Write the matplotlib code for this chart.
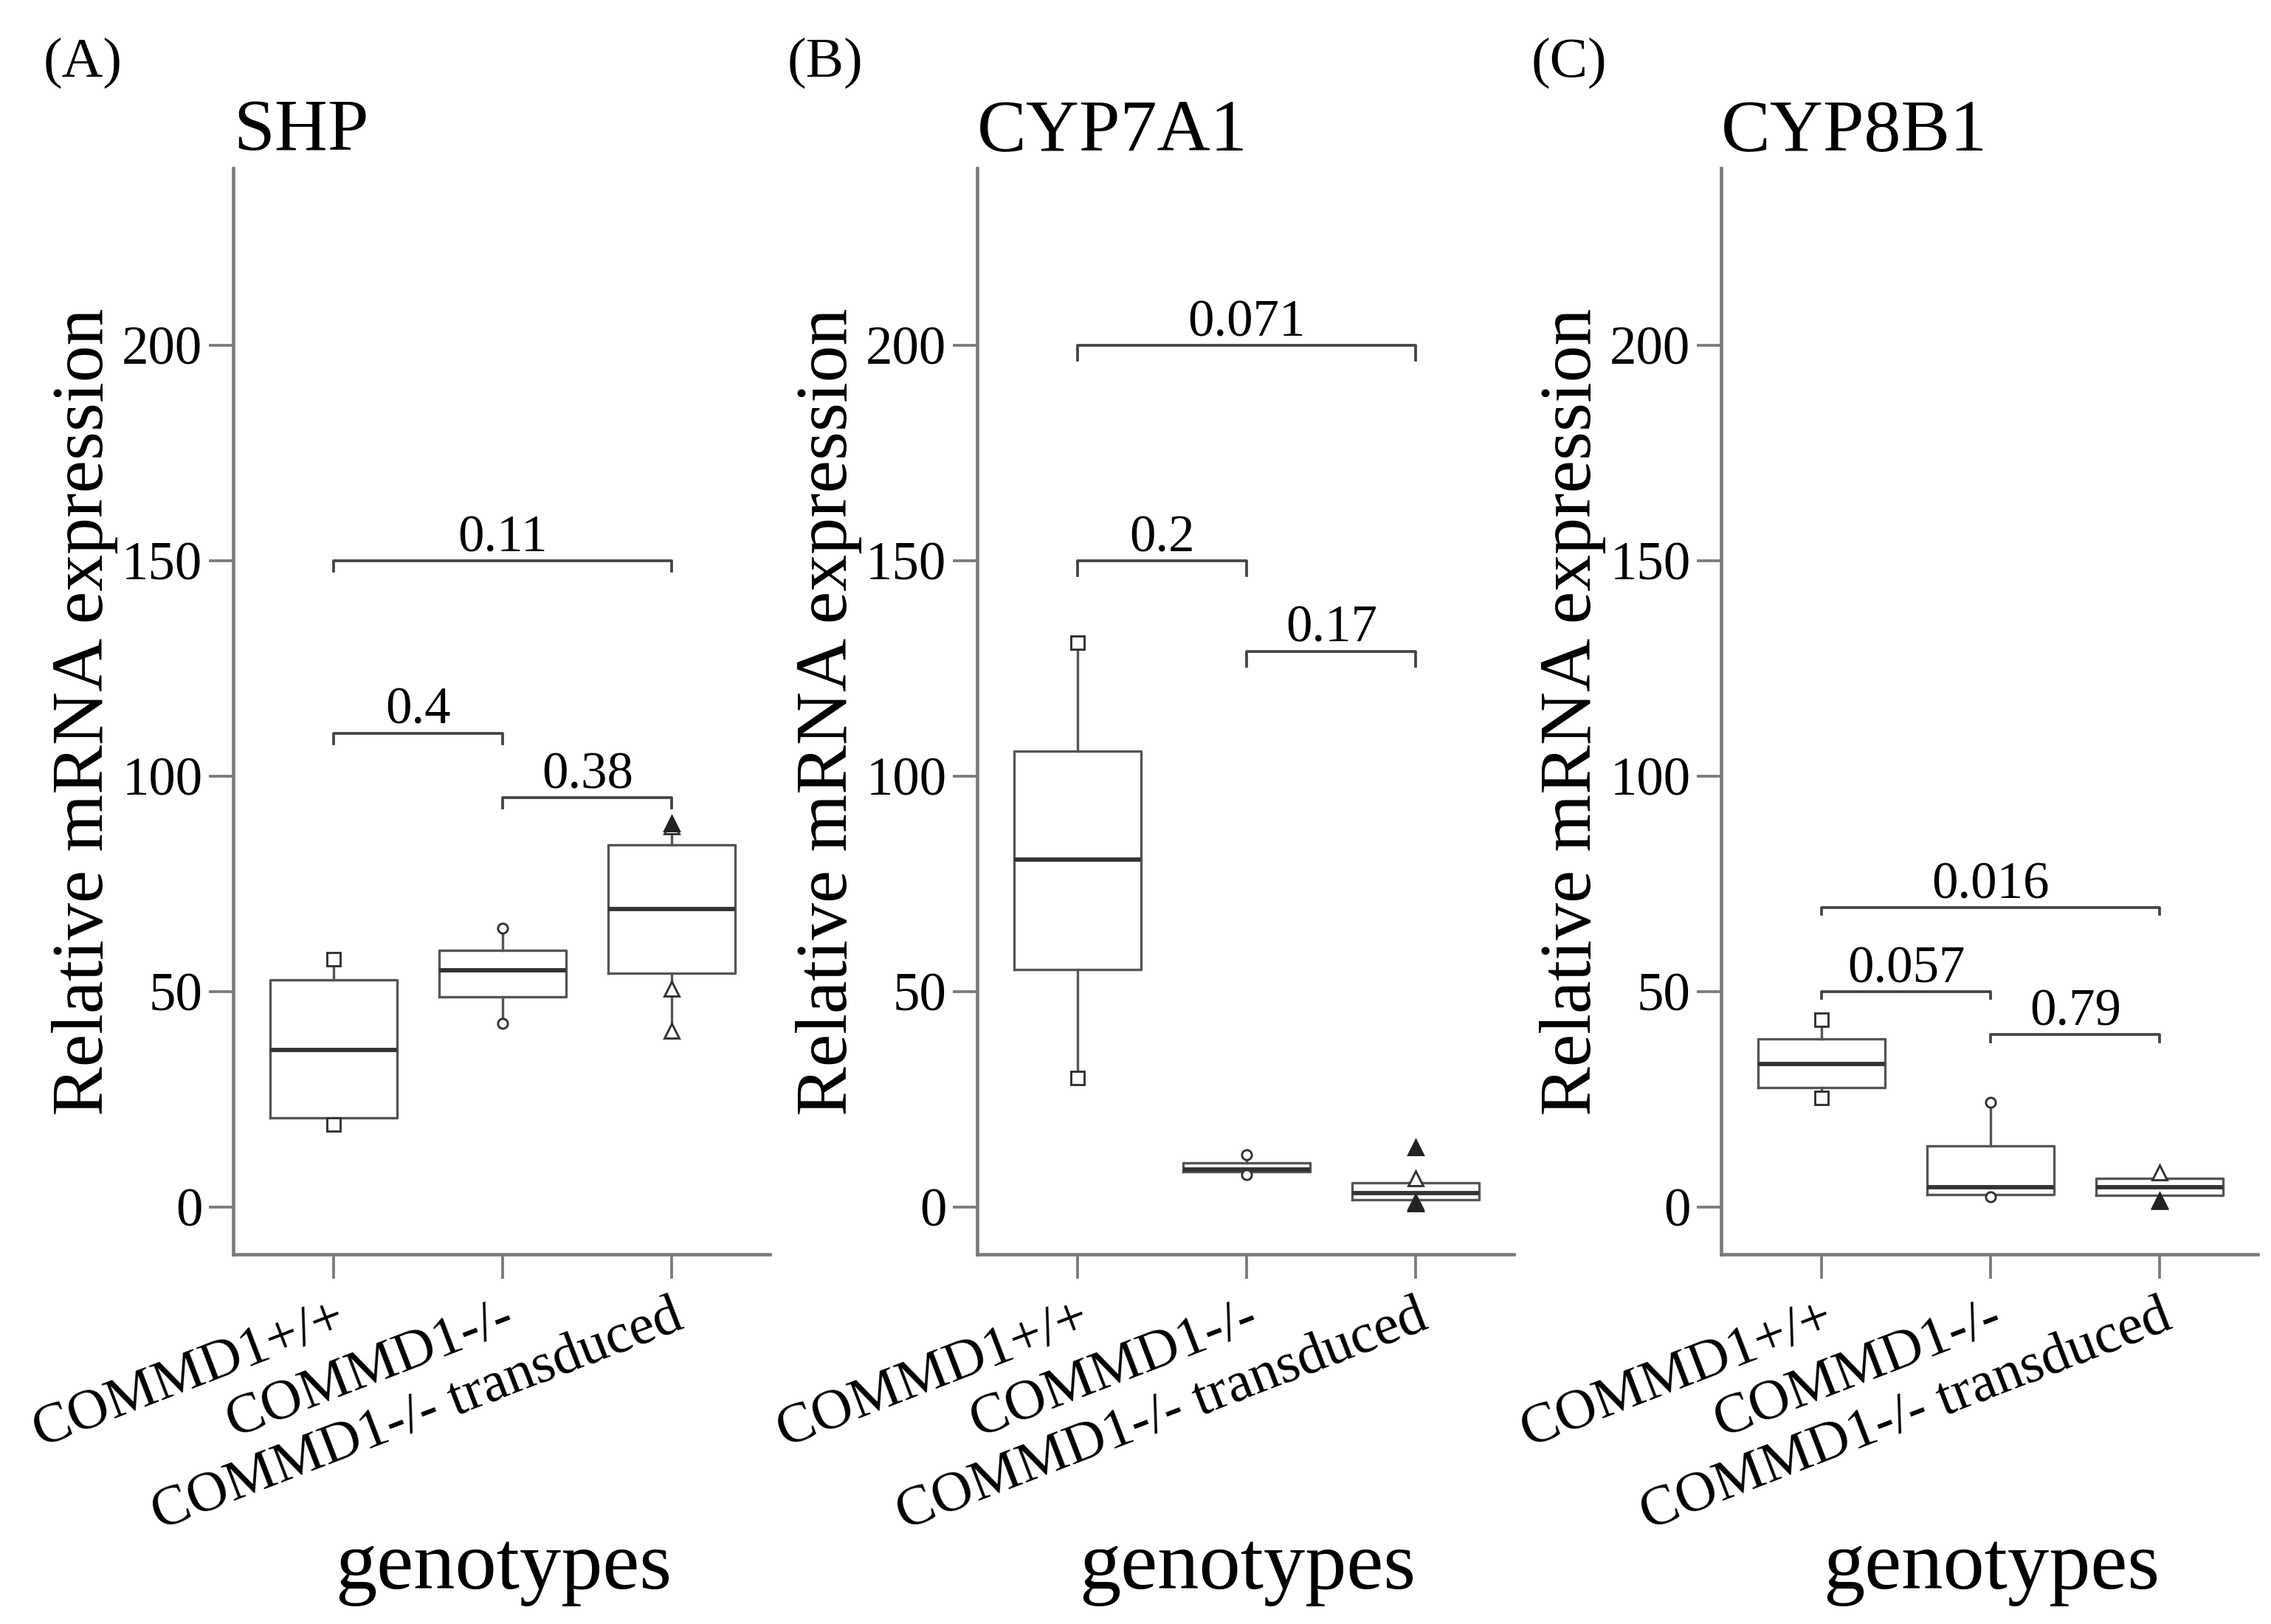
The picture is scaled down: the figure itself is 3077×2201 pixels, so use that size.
import matplotlib.pyplot as plt
import numpy as np

plt.rcParams['font.family'] = ['Liberation Serif', 'DejaVu Serif']

groups = ['COMMD1+/+', 'COMMD1-/-', 'COMMD1-/- transduced']
genes = ['SHP', 'CYP7A1', 'CYP8B1']
panel_tags = ['(A)', '(B)', '(C)']

# box statistics: [+/+, -/-, -/- transduced]
shp_q1 = [20.8, 48.8, 54.2]
shp_med = [36.5, 55.0, 69.1]
shp_q3 = [52.7, 59.6, 84.0]
shp_lo = [19.2, 42.7, 40.9]
shp_hi = [57.5, 64.8, 88.8]
shp_open = [[57.5, 19.2], [64.8, 42.7], [88.4, 50.6, 40.9]]
shp_filled = [[], [], [89.0]]
shp_pairs = [(0, 1), (1, 2), (0, 2)]
shp_pvals = ['0.4', '0.38', '0.11']
shp_pheight = [110, 95, 150]

cyp7_q1 = [55.2, 8.2, 1.8]
cyp7_med = [80.7, 8.8, 3.3]
cyp7_q3 = [105.8, 10.2, 5.6]
cyp7_lo = [29.9, 7.6, 0.8]
cyp7_hi = [131.0, 12.1, 6.6]
cyp7_open = [[131.0, 29.9], [12.1, 7.6], [6.6, 1.2]]
cyp7_filled = [[], [], [13.8, 0.8]]
cyp7_pairs = [(0, 1), (1, 2), (0, 2)]
cyp7_pvals = ['0.2', '0.17', '0.071']
cyp7_pheight = [150, 129, 200]

cyp8_q1 = [27.8, 3.0, 2.8]
cyp8_med = [33.2, 4.7, 4.6]
cyp8_q3 = [39.0, 14.3, 6.6]
cyp8_lo = [25.4, 2.4, 1.3]
cyp8_hi = [43.5, 24.3, 8.0]
cyp8_open = [[43.5, 25.4], [24.3, 2.4], [8.0, 1.3]]
cyp8_filled = [[], [], [1.5]]
cyp8_pairs = [(0, 1), (1, 2), (0, 2)]
cyp8_pvals = ['0.057', '0.79', '0.016']
cyp8_pheight = [50, 40, 69.5]

panels = [
    (shp_q1, shp_med, shp_q3, shp_lo, shp_hi, shp_open, shp_filled, shp_pairs, shp_pvals, shp_pheight, 2.4),
    (cyp7_q1, cyp7_med, cyp7_q3, cyp7_lo, cyp7_hi, cyp7_open, cyp7_filled, cyp7_pairs, cyp7_pvals, cyp7_pheight, 3.5),
    (cyp8_q1, cyp8_med, cyp8_q3, cyp8_lo, cyp8_hi, cyp8_open, cyp8_filled, cyp8_pairs, cyp8_pvals, cyp8_pheight, 1.6),
]
markers = ['s', 'o', '^']
msizes = [4.2, 3.2, 4.6]

fig = plt.figure(figsize=(3077 / 300, 2201 / 300), dpi=300)
lefts = [0.1027, 0.4303, 0.7579]
tag_x = [0.0192, 0.3468, 0.6743]
boxc = '#555555'
axc = '#7a7a7a'

for i, (q1, med, q3, lo, hi, pts_o, pts_f, pairs, pvals, ph, tick) in enumerate(panels):
    ax = fig.add_axes([lefts[i], 0.2275, 0.2363, 0.6687])
    stats = []
    for k in range(3):
        stats.append(dict(q1=q1[k], med=med[k], q3=q3[k], whislo=lo[k], whishi=hi[k], fliers=[]))
    ax.bxp(stats, positions=[1, 2, 3], widths=0.75, showcaps=False,
           boxprops=dict(color=boxc, linewidth=0.8),
           whiskerprops=dict(color=boxc, linewidth=0.8),
           medianprops=dict(color='#333333', linewidth=1.4))
    for k in range(3):
        if pts_o[k]:
            ax.plot([k + 1] * len(pts_o[k]), pts_o[k], linestyle='none', marker=markers[k],
                    ms=msizes[k], mfc='white', mec='#333333', mew=0.7, zorder=3)
        if pts_f[k]:
            ax.plot([k + 1] * len(pts_f[k]), pts_f[k], linestyle='none', marker=markers[k],
                    ms=msizes[k], mfc='#222222', mec='#222222', mew=0.7, zorder=4)

    for (a, b), p, h in zip(pairs, pvals, ph):
        ax.plot([a + 1, a + 1, b + 1, b + 1], [h - tick, h, h, h - tick], color='#444444', lw=0.9)
        ax.text((a + b) / 2 + 1, h + 2.2, p, ha='center', va='baseline', fontsize=17)

    ax.set_xlim(0.405, 3.58)
    ax.set_ylim(-11, 241)
    ax.set_yticks([0, 50, 100, 150, 200])
    ax.set_xticks([1, 2, 3])
    ax.set_xticklabels(groups, rotation=21, ha='right', rotation_mode='anchor', fontsize=18.5)
    ax.tick_params(axis='y', labelsize=17.5, length=8, width=0.9, color=axc, pad=2)
    ax.tick_params(axis='x', length=8, width=0.9, color=axc, pad=4)
    for s in ['top', 'right']:
        ax.spines[s].set_visible(False)
    for s in ['left', 'bottom']:
        ax.spines[s].set_color(axc)
        ax.spines[s].set_linewidth(1.1)

    ax.set_ylabel('Relative mRNA expression', fontsize=24)
    ax.yaxis.set_label_coords(-0.276, 0.5)
    ax.set_xlabel('genotypes', fontsize=27)
    ax.xaxis.set_label_coords(0.503, -0.289)
    ax.xaxis.label.set_va('center')
    ax.yaxis.label.set_va('center')
    ax.text(0, 1.017, genes[i], transform=ax.transAxes, ha='left', va='baseline', fontsize=24)
    fig.text(tag_x[i], 0.953, panel_tags[i], ha='left', va='baseline', fontsize=18.5)

fig.savefig('out.png', dpi=300, facecolor='white')
